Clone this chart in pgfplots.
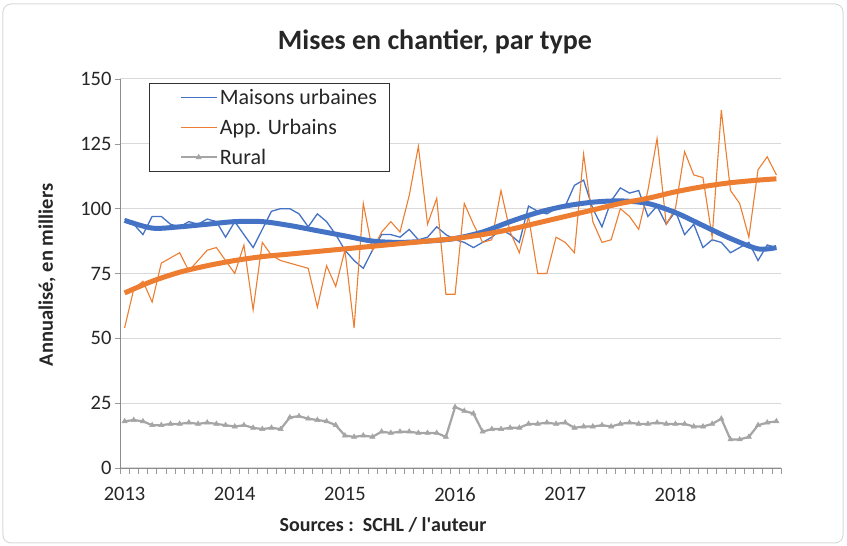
\documentclass[border=0pt]{standalone}
\usepackage{pgfplots}
\usepackage{pgfplotstable}
\pgfplotsset{compat=1.18}
\usepackage{fontspec}
\setmainfont{Carlito}
\definecolor{cblue}{HTML}{4472C4}
\definecolor{corange}{HTML}{ED7D31}
\definecolor{cgray}{HTML}{A5A5A5}
\definecolor{cgrid}{HTML}{D9D9D9}
\definecolor{ctext}{HTML}{262626}

\pgfplotstableread{
m maisons app rural
0 96 54 18
1 94 69 18.5
2 90 72 18
3 97 64 16.5
4 97 79 16.5
5 94 81 17
6 93 83 17
7 95 76 17.5
8 94 80 17
9 96 84 17.5
10 95 85 17
11 89 80 16.5
12 95 75 16
13 90 86 16.5
14 85 61 15.5
15 92 87 15
16 99 82 15.5
17 100 80 15
18 100 79 19.5
19 98 78 20
20 93 77 19
21 98 62 18.5
22 95 78 18
23 90 70 16.5
24 84 84 12.5
25 80 54 12
26 77 102 12.5
27 84 84 12
28 90 91 14
29 90 95 13.5
30 89 91 14
31 92 105 14
32 88 124 13.5
33 89 94 13.5
34 93 104 13.5
35 90 67 12
36 88 67 23.5
37 87 102 22
38 85 94 21
39 87 87 14
40 89 88 15
41 92 107 15
42 90 91 15.5
43 87 83 15.5
44 101 97 17
45 99 75 17
46 98 75 17.5
47 100 89 17
48 101 87 17.5
49 109 83 15.5
50 111 121 16
51 100 95 16
52 93 87 16.5
53 103 88 16
54 108 100 17
55 106 97 17.5
56 107 92 17
57 97 107 17
58 101 127 17.5
59 94 94 17
60 99 100 17
61 90 122 17
62 94 113 16
63 85 112 16
64 88 89 17
65 87 138 19
66 83 107 11
67 85 102 11
68 87 89 12
69 80 115 16.5
70 86 120 17.5
71 85 113 18
}\data

\pgfplotstableread{
m tb to
0 95.5 67.5
3 92.5 72
6 93 75.5
9 94 78
12 95 80
15 95 81.5
18 93.5 82.5
21 91.5 83.5
24 89.5 84.5
27 87.5 85.5
30 87 86.5
33 87.5 87.5
36 88.5 88.5
39 91 90
42 95 92
45 98.5 94.5
48 101 97
51 102.5 99.5
54 103 102
57 102 104
60 98.5 106.5
63 93.5 108.5
66 88.5 110
69 84.5 111
71 85 111.5
}\trend

\begin{document}
\begin{tikzpicture}
\useasboundingbox (-120pt,-78pt) rectangle (727pt,468pt);
\draw[cgrid, line width=1pt, rounded corners=8pt] (-117pt,-75pt) rectangle (723pt,464pt);
\begin{axis}[
  width=661pt, height=389pt, scale only axis,
  xmin=-0.5, xmax=71.5, ymin=0, ymax=150,
  ytick={0,25,...,150},
  xtick={0,12,...,60},
  xticklabels={2013,2014,2015,2016,2017,2018},
  minor xtick={-0.5,0.5,...,71.5},
  axis x line*=bottom, axis y line*=left,
  axis line style={black!45, line width=0.8pt},
  ymajorgrids, grid style={cgrid, line width=1pt},
  tick align=outside,
  major x tick style={draw=none},
  minor x tick style={black!40, line width=0.6pt},
  minor tick length=6pt,
  major tick length=5pt,
  ytick style={black!40, line width=0.6pt},
  /pgf/number format/assume math mode=true,
  ticklabel style={font=\fontsize{20.5}{24}\selectfont, text=ctext},
  xticklabel style={yshift=-11pt},
  legend style={at={(0.044,0.99)}, anchor=north west, draw=black!80, line width=1pt,
    fill=white, font=\fontsize{22}{26}\selectfont, text=ctext, row sep=9pt,
    inner xsep=10pt, inner ysep=4pt, column sep=0pt},
  legend cell align=left,
  legend image code/.code={\path (-20pt,0pt); \draw[mark repeat=2,mark phase=2,#1] plot coordinates {(0pt,0pt) (18pt,0pt) (36pt,0pt)};},
]
\addplot[cblue, line width=1.3pt] table[x=m, y=maisons] {\data};
\addlegendentry{Maisons urbaines}
\addplot[corange, line width=1.1pt] table[x=m, y=app] {\data};
\addlegendentry{App. Urbains}
\addplot[cgray, line width=2.2pt, mark=triangle*, mark size=3pt, mark options={fill=cgray, draw=cgray, line width=0.5pt}] table[x=m, y=rural] {\data};
\addlegendentry{Rural}
\addplot[cblue, line width=5pt, smooth, forget plot] table[x=m, y=tb] {\trend};
\addplot[corange, line width=5pt, smooth, forget plot] table[x=m, y=to] {\trend};
\end{axis}
\node[font=\bfseries\fontsize{28}{33}\selectfont, text=ctext] at (315pt,426pt) {Mises en chantier, par type};
\node[rotate=90, font=\bfseries\fontsize{20.5}{24}\selectfont, text=ctext] at (-73pt,193pt) {Annualisé, en milliers};
\node[font=\bfseries\fontsize{20}{24}\selectfont, text=ctext] at (263pt,-57pt) {Sources :\ \ SCHL / l\textquotesingle auteur};
\end{tikzpicture}
\end{document}
